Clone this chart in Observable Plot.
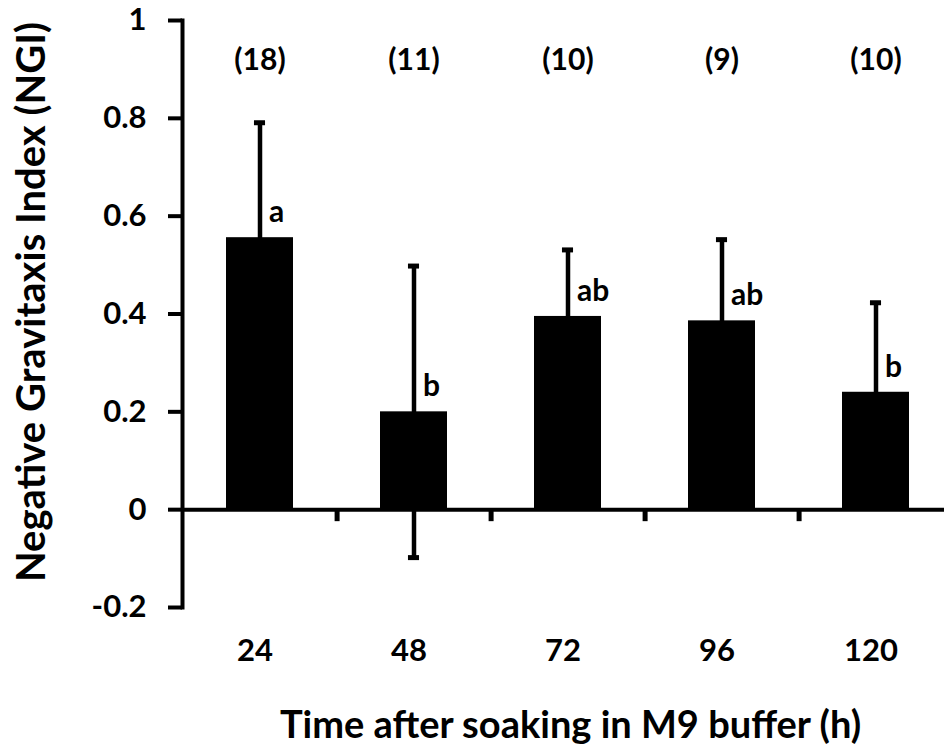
<!DOCTYPE html>
<html>
<head>
<meta charset="utf-8">
<script src="https://cdn.jsdelivr.net/npm/d3@7"></script>
<script src="https://cdn.jsdelivr.net/npm/@observablehq/plot@0.6"></script>
<style>
  html, body { margin: 0; padding: 0; background: #fff; overflow: hidden; }
  #chart { width: 944px; height: 747px; }
</style>
</head>
<body>
<div id="chart"></div>
<script>
// ---- data ----
const times = ["24", "48", "72", "96", "120"];
const means = [0.556, 0.200, 0.395, 0.386, 0.240];
const errors = [0.235, 0.298, 0.136, 0.166, 0.183];
const nLabels = ["(18)", "(11)", "(10)", "(9)", "(10)"];
const sigLetters = ["a", "b", "ab", "ab", "b"];
const yTicks = [-0.2, 0, 0.2, 0.4, 0.6, 0.8, 1];
const xTitle = "Time after soaking in M9 buffer (h)";
const yTitle = "Negative Gravitaxis Index (NGI)";

const idx = d3.range(times.length);
const X = i => times[i];

// band layout (Excel-like category axis)
const xRange = [182, 953];
const step = (xRange[1] - xRange[0]) / times.length;
const padIn = 0.566;
const bandwidth = step * (1 - padIn);
const capW = 11;

const plot = Plot.plot({
  width: 944,
  height: 747,
  marginLeft: 182,
  marginRight: 0,
  marginTop: 20,
  marginBottom: 140,
  style: { fontFamily: "Lato, sans-serif", fontWeight: "bold", color: "black", background: "white" },
  x: { domain: times, range: xRange, paddingInner: padIn, paddingOuter: padIn / 2 },
  y: { domain: [-0.2, 1] },
  marks: [
    Plot.barY(idx, { x: X, y: i => means[i], fill: "black" }),
    Plot.ruleX(idx, { x: X, y1: i => means[i] - errors[i], y2: i => means[i] + errors[i], stroke: "black", strokeWidth: 4.5 }),
    Plot.tickY(idx, { x: X, y: i => means[i] + errors[i], stroke: "black", strokeWidth: 5,
      insetLeft: (bandwidth - capW) / 2, insetRight: (bandwidth - capW) / 2 }),
    Plot.tickY(idx, { x: X, y: i => means[i] - errors[i], stroke: "black", strokeWidth: 5,
      insetLeft: (bandwidth - capW) / 2, insetRight: (bandwidth - capW) / 2 }),
    Plot.ruleY([0], { stroke: "black", strokeWidth: 4 }),
    Plot.frame({ anchor: "left", stroke: "black", strokeWidth: 4 }),
    // between-category tick marks below the zero line
    Plot.ruleX(idx.slice(0, -1), { x: X, y1: 0, y2: 0, dx: step / 2, insetBottom: -12, stroke: "black", strokeWidth: 5 }),
    Plot.axisY(yTicks, { tickSize: 14, tickPadding: 22, strokeWidth: 4, fontSize: 31, label: null,
      tickFormat: d => String(d) }),
    Plot.axisX({ tickSize: 0, tickPadding: 31, fontSize: 31, label: null, dx: -5 }),
    Plot.text(idx, { x: X, text: i => nLabels[i], frameAnchor: "top", lineAnchor: "middle", textAnchor: "middle", dy: 40, fontSize: 30 }),
    Plot.text(idx, { x: X, y: i => means[i], text: i => sigLetters[i], textAnchor: "start", lineAnchor: "middle", dx: 9, dy: -25, fontSize: 30 }),
    Plot.text([xTitle], { text: d => d, frameAnchor: "bottom", textAnchor: "middle", lineAnchor: "middle", dx: 7, dy: 118, fontSize: 38 }),
    Plot.text([yTitle], { text: d => d, frameAnchor: "left", rotate: -90, textAnchor: "middle", lineAnchor: "middle", dx: -150, dy: -12, fontSize: 40 })
  ]
});
document.getElementById("chart").appendChild(plot);
</script>
</body>
</html>
